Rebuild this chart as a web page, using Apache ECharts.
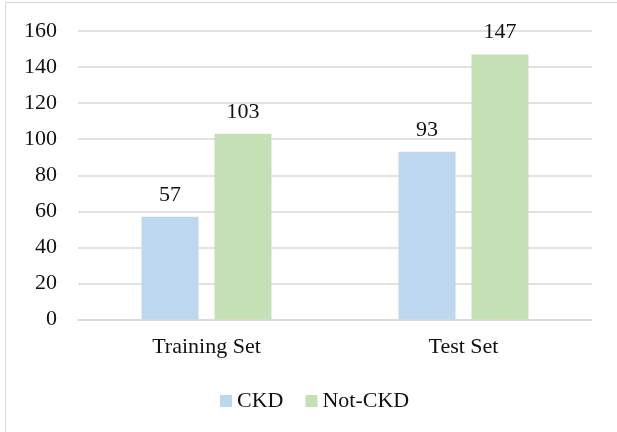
<!DOCTYPE html>
<html>
<head>
<meta charset="utf-8">
<script src="https://cdn.jsdelivr.net/npm/echarts@6/dist/echarts.min.js"></script>
<style>
  html, body { margin: 0; padding: 0; background: #fff; }
  #chart { width: 617px; height: 432px; }
</style>
</head>
<body>
<div id="chart"></div>
<script>
// Sample counts per split
const categories = ['Training Set', 'Test Set'];
const ckdCounts = [57, 93];
const notCkdCounts = [103, 147];
const yTicks = { min: 0, max: 160, interval: 20 };

const FONT = '"Liberation Serif", "Times New Roman", serif';
const FS = 22;
const chart = echarts.init(document.getElementById('chart'));

const labelStyle = {
  show: true,
  position: 'top',
  distance: 11,
  color: '#111111',
  fontFamily: FONT,
  fontSize: FS
};

chart.setOption({
  animation: false,
  backgroundColor: '#ffffff',
  graphic: [{
    type: 'rect',
    shape: { x: 5.5, y: 2.5, width: 640, height: 460 },
    style: { fill: 'none', stroke: '#d9d9d9', lineWidth: 1 },
    silent: true
  }],
  grid: { left: 78, right: 25, top: 31, bottom: 112.5 },
  legend: {
    left: 215,
    top: 385,
    itemWidth: 12,
    itemHeight: 12,
    itemGap: 22,
    icon: 'rect',
    textStyle: { fontFamily: FONT, fontSize: FS, color: '#111111' },
    data: ['CKD', 'Not-CKD']
  },
  xAxis: {
    type: 'category',
    data: categories,
    axisTick: { show: false },
    axisLine: { lineStyle: { color: '#d9d9d9', width: 1.5 } },
    axisLabel: { fontFamily: FONT, fontSize: FS, color: '#111111', margin: 17 }
  },
  yAxis: {
    type: 'value',
    min: yTicks.min,
    max: yTicks.max,
    interval: yTicks.interval,
    axisLine: { show: false },
    axisTick: { show: false },
    splitLine: { lineStyle: { color: '#d9d9d9', width: 1.5 } },
    axisLabel: { fontFamily: FONT, fontSize: FS, color: '#111111', margin: 21 }
  },
  series: [
    {
      name: 'CKD',
      type: 'bar',
      data: ckdCounts,
      barWidth: 57,
      barGap: '28%',
      itemStyle: { color: '#bdd7ee' },
      label: labelStyle
    },
    {
      name: 'Not-CKD',
      type: 'bar',
      data: notCkdCounts,
      barWidth: 57,
      itemStyle: { color: '#c5e0b4' },
      label: labelStyle
    }
  ]
});
</script>
</body>
</html>
